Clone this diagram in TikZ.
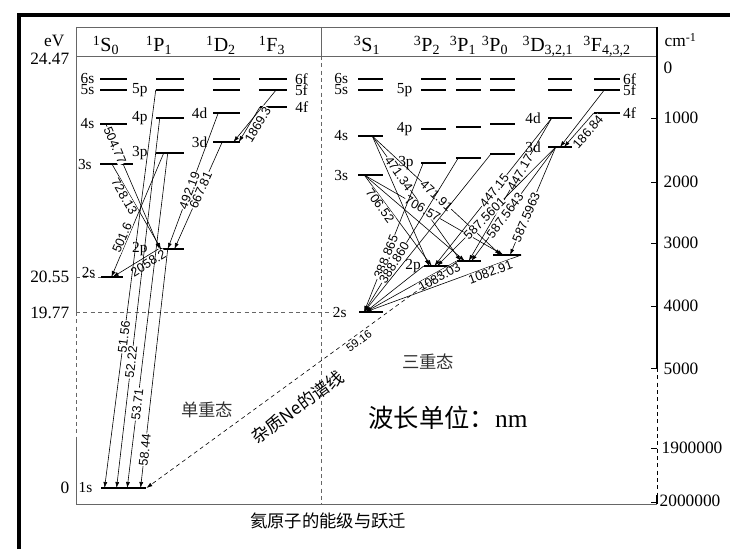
\documentclass[tikz,border=0pt]{standalone}
\usepackage{fontspec}
\usetikzlibrary{arrows.meta}
\setmainfont{Liberation Serif}
\setsansfont{Liberation Sans}
\newfontfamily\cjk{Noto Sans CJK SC}
\newcommand{\fsz}[1]{\fontsize{#1}{#1}\selectfont}
\newcommand{\term}[3]{\textsuperscript{#1}#2\textsubscript{#3}}

\tikzset{
  lvl/.style={fill=black, inner sep=0pt, minimum height=2.2pt, minimum width=20pt},
  lvlname/.style={font=\fsz{11.5}, inner sep=1pt},
  every label/.style={lvlname},
  tr/.style={-{Latex[length=4.5pt,width=3pt]}, line width=0.45pt},
  wl/.style={font=\sffamily\fsz{9.5}, fill=white, inner sep=0.5pt, sloped},
  frame/.style={draw=black!60, line width=0.7pt},
  guide/.style={draw=black!60, line width=0.6pt, dash pattern=on 3pt off 2.5pt},
  axislbl/.style={font=\fsz{13}},
  head/.style={font=\fsz{15}, anchor=base},
}

\begin{document}
\begin{tikzpicture}[x=0.75pt, y=-0.75pt, label distance=3pt]
\useasboundingbox (0,0) rectangle (730,549);
\draw[line width=3pt] (18.5,549) -- (18.5,15) -- (730,15);

% frame and axes
\draw[frame] (76,27) -- (657,27);
\draw[frame] (76,56) -- (657,56);
\draw[frame] (76,504) -- (657,504);
\draw[frame] (76,27) -- (76,312);
\draw[guide] (76,312) -- (76,437);
\draw[frame] (76,437) -- (76,504);
\draw[frame] (321,27) -- (321,56);
\draw[guide] (321,56) -- (321,504);
\draw[line width=0.8pt] (657,27) -- (657,368);
\draw[line width=0.6pt, dash pattern=on 3pt off 2.5pt] (657,368) -- (657,495);
\draw[line width=0.8pt] (657,495) -- (657,504);
\draw (651,118) -- (657,118);
\draw (651,182) -- (657,182);
\draw (651,243) -- (657,243);
\draw (651,306) -- (657,306);
\draw (651,368) -- (657,368);
\draw (651,448) -- (657,448);
\draw (651,502) -- (657,502);

% energy scale
\node[axislbl, anchor=east] (ev) at (69,41) {eV};
\node[axislbl, anchor=east] (e2447) at (74,59) {24.47};
\node[axislbl, anchor=east] (e2055) at (74,277) {20.55};
\node[axislbl, anchor=east] (e1977) at (74,313) {19.77};
\node[axislbl, anchor=east] (e0) at (74,488) {0};
\node[axislbl, anchor=west] (cm) at (660,40) {cm\textsuperscript{-1}};
\node[axislbl, anchor=west] (k0) at (659,68) {0};
\node[axislbl, anchor=west] (k1) at (659,118) {1000};
\node[axislbl, anchor=west] (k2) at (659,182) {2000};
\node[axislbl, anchor=west] (k3) at (659,243) {3000};
\node[axislbl, anchor=west] (k4) at (659,306) {4000};
\node[axislbl, anchor=west] (k5) at (659,369) {5000};
\node[axislbl, anchor=west] (k19) at (657,448) {1900000};
\node[axislbl, anchor=west] (k20) at (655,501) {2000000};

% terms
\node[head] (hS) at (106,52) {\term{1}{S}{0}};
\node[head] (hP) at (159,52) {\term{1}{P}{1}};
\node[head] (hD) at (221,52) {\term{1}{D}{2}};
\node[head] (hF) at (272,52) {\term{1}{F}{3}};
\node[head] (tS) at (367,52) {\term{3}{S}{1}};
\node[head] (tP2) at (427,52) {\term{3}{P}{2}};
\node[head] (tP1) at (463,52) {\term{3}{P}{1}};
\node[head] (tP0) at (495,52) {\term{3}{P}{0}};
\node[head] (tD) at (548,52) {\term{3}{D}{3,2,1}};
\node[head] (tF) at (607,52) {\term{3}{F}{4,3,2}};

% singlet levels
\node[lvl, label=left:6s] (s6) at (113.5,79) {};
\node[lvl, label=left:5s] (s5) at (113.5,90) {};
\node[lvl, label=left:4s] (s4) at (113.5,124) {};
\node[lvl, minimum width=24.5pt, label={[label distance=5pt]left:3s}] (s3) at (116.5,164) {};
\node[lvl, minimum width=16.5pt] (s2) at (112,277) {};
\node[lvlname, anchor=south east] (s2name) at (97,279) {2s};
\node[lvl, minimum width=34pt, label={[label distance=5pt]left:1s}] (s1) at (123.5,488) {};
\node[lvl, minimum width=21pt] (p6) at (170,79) {};
\node[lvl, minimum width=21pt, label={[label distance=5pt]left:5p}] (p5) at (170,90) {};
\node[lvl, minimum width=21pt, label={[label distance=5pt]left:4p}] (p4) at (170,118) {};
\node[lvl, minimum width=21pt, label={[label distance=5pt]left:3p}] (p3) at (170,153) {};
\node[lvl, minimum width=18pt, label={[label distance=8pt]left:2p}] (p2) at (172,249) {};
\node[lvl] (d6) at (226.5,79) {};
\node[lvl] (d5) at (226.5,90) {};
\node[lvl, label=left:4d] (d4) at (226.5,113) {};
\node[lvl, label=left:3d] (d3) at (226.5,142) {};
\node[lvl, minimum width=21pt, label={[label distance=5pt]right:6f}] (f6) at (272.5,79) {};
\node[lvl, minimum width=21pt, label={[label distance=5pt]right:5f}] (f5) at (272.5,90) {};
\node[lvl, label={[label distance=5pt]right:4f}] (f4) at (273.5,107) {};

% triplet levels
\node[lvl, minimum width=19pt, label={[label distance=6pt]left:6s}] (ts6) at (370.5,79) {};
\node[lvl, minimum width=19pt, label={[label distance=6pt]left:5s}] (ts5) at (370.5,90) {};
\node[lvl, minimum width=19pt, label={[label distance=6pt]left:4s}] (ts4) at (370.5,136) {};
\node[lvl, minimum width=19pt, label={[label distance=6pt]left:3s}] (ts3) at (370.5,175) {};
\node[lvl, minimum width=18pt, label={[label distance=8pt]left:2s}] (ts2) at (371,312) {};
\node[lvl, minimum width=19pt] (tp26) at (433.5,79) {};
\node[lvl, minimum width=19pt, label={[label distance=5pt]left:5p}] (tp25) at (433.5,90) {};
\node[lvl, minimum width=19pt, label={[label distance=5pt]left:4p}] (tp24) at (433.5,129) {};
\node[lvl, minimum width=19pt, label={[label distance=4pt]left:3p}] (tp23) at (433.5,163) {};
\node[lvl, minimum width=19.5pt, label={[label distance=1pt]left:2p}] (tp22) at (437,266) {};
\node[lvl, minimum width=19pt] (tp16) at (468.5,79) {};
\node[lvl, minimum width=19pt] (tp15) at (468.5,90) {};
\node[lvl, minimum width=19pt] (tp14) at (468.5,127) {};
\node[lvl, minimum width=19pt] (tp13) at (468.5,158) {};
\node[lvl, minimum width=18pt] (tp12) at (469,261) {};
\node[lvl, minimum width=19pt] (tp06) at (502.5,79) {};
\node[lvl, minimum width=19pt] (tp05) at (502.5,90) {};
\node[lvl, minimum width=19pt] (tp04) at (502.5,124) {};
\node[lvl, minimum width=19pt] (tp03) at (502.5,154) {};
\node[lvl, minimum width=21pt] (tp02) at (507,255) {};
\node[lvl, minimum width=18pt] (td6) at (560,79) {};
\node[lvl, minimum width=18pt] (td5) at (560,90) {};
\node[lvl, minimum width=18pt, label={[label distance=4pt]left:4d}] (td4) at (560,118) {};
\node[lvl, minimum width=18pt, label={[label distance=4pt]left:3d}] (td3) at (560,147) {};
\node[lvl, minimum width=19.5pt, label={[label distance=1pt]right:6f}] (tf6) at (607,79) {};
\node[lvl, minimum width=19.5pt, label={[label distance=1pt]right:5f}] (tf5) at (607,90) {};
\node[lvl, minimum width=19.5pt, label={[label distance=1pt]right:4f}] (tf4) at (607,113) {};

% level guides
\draw[guide] (76,277) -- (s2.west);
\draw[guide] (76,312) -- (333,312);

% singlet transitions
\draw[tr] ([xshift=4.5pt]s4.west) -- node[wl, pos=.17] {504.77} (p2.west);
\draw[tr] ([xshift=9pt]s3.west) -- node[wl, pos=.35, below] {728.13} ([xshift=1pt]p2.west);
\draw[tr] ([xshift=6pt]p3.west) -- node[wl, pos=.7, above] {501.6} ([xshift=8pt]s2.west);
\draw[tr] ([xshift=-1pt]p2.west) -- node[wl, pos=.3, below=1pt] {2058.2} ([xshift=9pt]s2.west);
\draw[tr] (p5.west) -- node[wl, pos=.62] {51.56} ([xshift=3pt]s1.west);
\draw[tr] ([xshift=3pt]p4.west) -- node[wl, pos=.66] {52.22} ([xshift=12pt]s1.west);
\draw[tr] ([xshift=9pt]p3.west) -- node[wl, pos=.75] {53.71} ([xshift=20pt]s1.west);
\draw[tr] ([xshift=6pt]p2.west) -- node[wl, pos=.84] {58.44} ([xshift=30pt]s1.west);
\draw[tr] ([xshift=4pt]d4.west) -- node[wl, pos=.57] {492.19} ([xshift=6pt]p2.west);
\draw[tr] ([xshift=7pt]d3.west) -- node[wl, pos=.45] {667.81} ([xshift=11pt]p2.west);
\draw[tr] ([xshift=-8pt]f5.east) -- ([xshift=-5pt]d3.east);
\draw[tr] (f4.west) -- node[wl, pos=.4, below=1.5pt] {1869.3} ([xshift=-1pt]d3.east);

% triplet transitions
\draw[tr] ([xshift=11pt]ts4.west) -- ([xshift=4pt]tp22.west);
\draw[tr] ([xshift=11pt]ts4.west) -- node[wl, pos=.3] {471.34} ([xshift=3pt]tp12.west);
\draw[tr] ([xshift=11pt]ts4.west) -- node[wl, pos=.5] {471.91} ([xshift=6pt]tp02.west);
\draw[tr] ([xshift=5pt]ts3.west) -- node[wl, pos=.3, below] {706.52} ([xshift=6pt]tp22.west);
\draw[tr] ([xshift=5pt]ts3.west) -- ([xshift=6pt]tp12.west);
\draw[tr] ([xshift=5pt]ts3.west) -- node[wl, pos=.42] {706.57} ([xshift=8pt]tp02.west);
\draw[tr] ([xshift=2pt]tp23.west) -- node[wl, pos=.63] {388.865} ([xshift=4pt]ts2.west);
\draw[tr] ([xshift=2pt]tp13.west) -- node[wl, pos=.68] {388.860} ([xshift=4pt]ts2.west);
\draw[tr] ([xshift=1pt]tp03.west) -- ([xshift=4pt]ts2.west);
\draw[tr] ([xshift=3pt]td4.west) -- node[wl, pos=.49] {447.15} ([xshift=8pt]tp22.west);
\draw[tr] ([xshift=3pt]td4.west) -- node[wl, pos=.38] {447.17} ([xshift=9pt]tp12.west);
\draw[tr] ([xshift=6pt]td3.west) -- node[wl, pos=.6] {587.5601} ([xshift=10pt]tp22.west);
\draw[tr] ([xshift=6pt]td3.west) -- node[wl, pos=.6] {587.5643} ([xshift=11pt]tp12.west);
\draw[tr] ([xshift=6pt]td3.west) -- node[wl, pos=.65] {587.5963} ([xshift=13pt]tp02.west);
\draw[tr] ([xshift=-12pt]tf5.east) -- (td3.center);
\draw[tr] (tf4.west) -- node[wl, pos=.4, below=2pt] {186.84} ([xshift=3pt]td3.center);
\draw[tr] (tp22.west) -- ([xshift=5pt]ts2.west);
\draw[tr] (tp12.west) -- node[wl, pos=.22, below] {1083.03} ([xshift=5pt]ts2.west);
\draw[tr] (tp02.east) -- node[wl, pos=.21, below] {1082.91} ([xshift=5pt]ts2.west);

% impurity line
\draw[tr, dash pattern=on 3pt off 2.5pt] ([xshift=1pt]tp12.west)
  -- node[wl, font=\sffamily\fsz{8.5}, fill=none, pos=.33, below=1pt] {59.16}
     node[sloped, pos=.56, below=8pt, font=\cjk\fsz{13}] {杂质Ne的谱线} (s1.east);

% captions
\node[font=\cjk\fsz{13}, text=black!80] (single) at (207,410) {单重态};
\node[font=\cjk\fsz{13}, text=black!80] (triple) at (428,362) {三重态};
\node[font=\fsz{19}] (unit) at (448,418) {{\cjk 波长单位：}nm};
\node[font=\cjk\fsz{13}] (cap) at (328,521) {氦原子的能级与跃迁};
\end{tikzpicture}
\end{document}
